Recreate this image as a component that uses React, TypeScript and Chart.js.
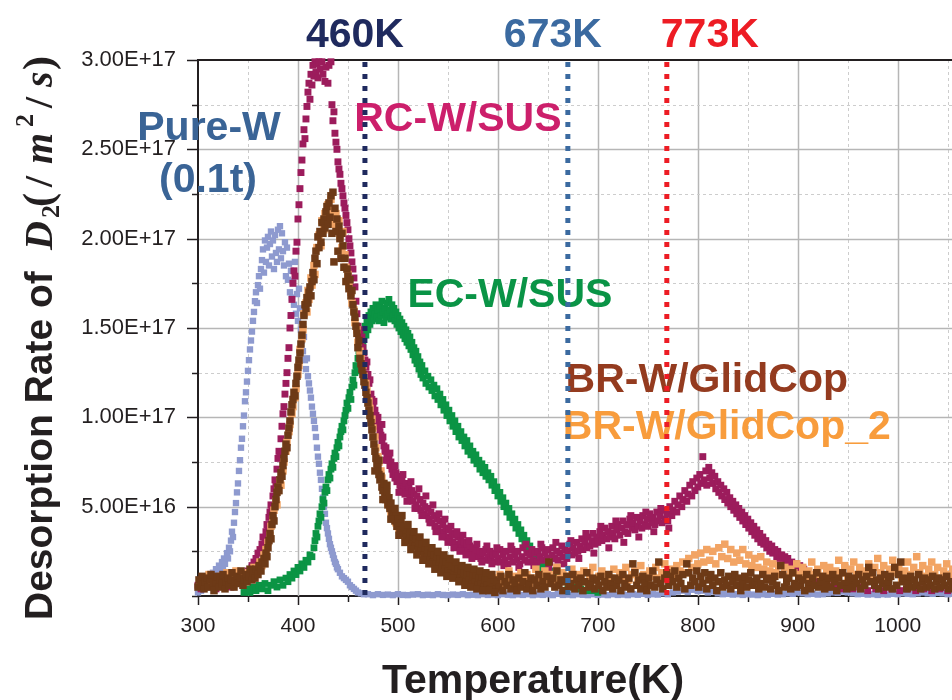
import React, { useEffect, useRef } from 'react';
import { Chart, registerables } from 'chart.js';

Chart.register(...registerables);

type P = [number, number][];

// Temperature (K), desorption rate in units of 1e16 /m^2/s
const RATE_UNIT = 1e16;

const PURE_W: P = [
  [300,.2],[302,.4],[303,.3],[305,.6],[307,.5],[309,.8],[310,.6],[312,1.1],[313,.9],[315,1.3],[316,1.1],[318,1.5],[319,1.3],[321,1.7],[322,1.4],[324,1.9],[325,1.6],[326,2.1],[327,1.8],[329,2.4],[330,2.1],[331,2.7],[332,2.5],[333,3.1],[334,3.6],[335,3.3],[336,4.1],[337,4.7],[338,5.2],[339,5.8],[340,6.3],[341,7.0],[342,7.6],[343,8.3],[344,8.8],[345,9.5],[346,10.1],[347,10.9],[348,11.4],[349,12.0],[350,12.6],[351,13.2],[352,13.8],[353,14.3],[354,14.8],[355,15.4],[356,15.9],[357,16.5],[358,17.0],[359,16.4],[360,17.4],[361,17.9],[362,17.2],[363,18.3],[364,18.8],[365,19.4],[366,18.1],[367,19.9],[368,18.7],[369,19.5],[370,20.1],[371,18.5],[372,19.7],[373,20.4],[374,19.0],[375,19.9],[376,18.3],[377,20.2],[378,19.2],[379,18.7],[380,20.5],[381,19.4],[382,20.7],[383,18.9],[384,20.3],[385,19.3],[386,18.5],[387,19.8],[388,17.9],[389,19.5],[390,17.7],[391,18.6],[392,17.0],[393,18.2],[394,16.7],[395,17.6],[396,16.3],[397,18.7],[398,15.8],[399,16.9],[400,15.4],[401,17.2],[402,16.1],[403,14.9],[404,14.3],[405,13.7],[406,14.5],[407,13.2],[408,12.7],[409,13.3],[410,12.3],[411,11.9],[412,11.5],[413,11.1],[414,10.6],[415,10.2],[416,9.8],[417,9.4],[418,8.9],[419,8.3],[420,7.8],[421,7.4],[422,6.9],[423,6.5],[424,6.0],[425,5.5],[426,5.0],[427,4.6],[428,4.1],[429,3.8],[430,3.5],[431,3.2],[432,2.9],[433,2.7],[434,2.5],[435,2.3],[436,2.1],[437,1.9],[438,1.8],[439,1.6],[440,1.5],[442,1.3],[444,1.1],[446,1.0],[448,.9],[450,.8],[452,.6],[454,.5],[456,.4],[458,.3],[460,.2],[463,.15],[466,.1],
  [470,.1],[475,.05],[480,.1],[485,.06],[490,.08],[495,.05],[500,.1],[505,.06],[510,.05],[515,.08],[520,.1],[525,.05],[530,.07],[535,.05],[540,.1],[545,.06],[550,.05],[555,.08],[560,.06],[565,.1],[570,.05],[575,.07],[580,.05],[585,.1],[590,.06],[595,.08],[600,.05],[605,.1],[610,.07],[615,.05],[620,.09],[625,.06],[630,.1],[635,.05],[640,.08],[645,.06],[650,.1],[655,.05],[660,.12],[665,.06],[670,.08],[675,.05],[680,.1],[685,.07],[690,.05],[695,.1],[700,.06],[705,.08],[710,.05],[715,.1],[720,.06],[725,.08],[730,.05],[735,.1],[740,.07],[745,.12],[750,.06],[755,.1],[760,.08],[765,.15],[770,.1],[775,.2],[780,.25],[785,.3],[790,.22],[795,.35],[800,.28],[805,.3],[810,.2],[815,.25],[820,.15],[825,.1],[830,.12],[835,.08],[840,.1],[845,.06],[850,.1],[855,.08],[860,.05],[865,.1],[870,.07],[875,.12],[880,.08],[885,.1],[890,.15],[895,.12],[900,.2],[905,.15],[910,.1],[915,.12],[920,.08],[925,.1],[930,.15],[935,.2],[940,.18],[945,.25],[950,.2],[955,.15],[960,.1],[965,.12],[970,.08],[975,.1],[980,.06],[985,.1],[990,.08],[995,.12],[1000,.1],[1005,.15],[1010,.12],[1015,.1],[1020,.15],[1025,.2],[1030,.15],[1035,.12],[1040,.18],[1045,.15],[1050,.1],[1055,.12],
];

const RC_W_SUS: P = [
  [300,.6],[303,.4],[306,.8],[309,.5],[312,.9],[315,.6],[318,.4],[321,.8],[324,.6],[327,1.0],[330,.7],[333,.5],[336,.9],[339,1.1],[342,.8],[345,1.2],[348,1.0],[350,1.4],[352,1.3],[354,1.7],[356,1.9],[358,2.1],[360,2.4],[362,2.6],[364,2.9],[365,3.3],[367,3.0],[368,3.6],[369,4.0],[370,3.8],[371,4.4],[372,4.7],[373,5.1],[374,5.0],[375,5.6],[376,6.0],[377,6.5],[378,6.2],[379,7.1],[380,7.7],[381,8.1],[382,7.8],[383,8.8],[384,9.5],[385,10.2],[386,10.6],[387,11.3],[388,11.9],[389,12.5],[390,13.3],[391,13.9],[392,15.0],[393,15.7],[394,16.6],[395,17.5],[396,18.2],[397,17.9],[398,19.3],[399,19.8],[400,21.1],[401,21.9],[402,22.8],[403,23.7],[404,24.4],[405,25.3],[406,26.1],[407,25.6],[408,26.7],[409,27.4],[410,28.2],[411,28.7],[412,27.8],[413,29.2],[414,28.6],[415,29.7],[416,29.1],[417,29.9],[418,29.3],[419,29.8],[420,29.0],[421,29.9],[422,29.5],[424,29.9],[425,29.2],[427,28.8],[428,29.6],[430,28.7],[431,29.7],[433,29.9],[434,27.5],[435,26.6],[436,27.1],[437,25.9],[438,25.4],[439,25.0],[440,24.3],[441,23.9],[442,23.6],[443,23.1],[444,22.8],[445,22.4],[446,22.0],[447,21.7],[448,21.3],[449,20.9],[450,20.5],[451,20.0],[452,19.6],[453,19.2],[454,18.7],[455,18.3],[456,17.8],[457,17.3],[458,16.5],[459,15.8],[460,15.1],[461,14.6],[462,14.9],[463,14.2],[464,14.5],[465,13.9],[466,13.6],[467,13.2],[468,12.8],[469,13.1],[470,12.4],[471,11.9],[472,12.1],[473,11.3],[474,11.0],[475,10.7],[476,10.9],[477,10.4],[478,10.1],[479,9.8],[480,10.0],[481,9.5],[482,9.2],[483,9.0],[484,8.7],[485,8.9],[486,8.4],[487,8.1],[488,8.3],[489,7.9],[490,7.6],[491,7.8],[492,7.3],[493,7.5],[494,7.1],[495,6.8],[496,7.2],[497,6.6],[498,6.9],[499,6.4],[500,6.7],[502,6.2],[503,5.9],[504,6.5],[506,6.0],[507,5.7],[508,6.3],[510,5.8],[511,6.1],[512,5.5],[514,5.9],[515,5.3],[516,5.7],[518,5.1],[519,5.6],[520,4.9],[522,5.4],[523,4.8],[525,5.2],[526,4.6],[527,5.0],[529,4.5],[530,4.9],[531,4.3],[533,4.7],[534,4.1],[536,4.5],[537,3.9],[539,4.3],[540,3.8],[542,4.2],[543,3.6],[545,4.0],[546,3.5],[548,3.8],[549,3.3],[551,3.7],[552,3.2],[554,3.5],[555,3.0],[557,3.4],[558,2.9],[560,3.3],[561,2.8],[563,3.1],[564,2.7],[566,3.0],[567,2.6],[569,2.9],[570,2.5],[572,2.8],[573,2.4],[575,2.7],[577,2.3],[578,2.6],[580,2.2],[582,2.5],[583,2.1],[585,2.4],[587,2.0],[588,2.6],[590,2.2],[592,2.5],[593,2.0],[595,2.3],[597,1.9],[598,2.4],[600,2.1],[602,2.6],[603,1.9],[605,2.3],[607,2.0],[608,2.5],[610,1.8],[612,2.2],[614,2.6],[615,1.9],[617,2.3],[619,2.0],[620,2.5],[622,1.8],[624,2.2],[625,2.7],[627,2.0],[629,2.4],[630,1.9],[632,2.3],[634,2.6],[635,2.0],[637,2.4],[639,1.9],[640,2.5],[642,2.2],[644,2.7],[645,2.0],[647,2.4],[649,2.1],[650,2.6],[652,1.9],[654,2.3],[655,2.7],[657,2.1],[659,2.5],[660,2.0],[662,2.4],[664,2.8],[665,2.2],[667,2.6],[669,2.1],[670,2.5],[672,2.9],[674,2.3],[675,2.7],[677,2.4],[679,3.0],[680,2.5],[682,2.8],[684,3.2],[685,2.6],[687,3.0],[689,2.7],[690,3.3],[692,2.8],[694,3.1],[695,3.5],[697,2.9],[699,3.3],[700,3.0],[702,3.6],[704,3.1],[705,3.4],[707,3.8],[709,3.2],[710,3.6],[712,3.3],[714,3.9],[715,3.5],[717,3.2],[719,3.7],[720,4.0],[722,3.4],[724,3.8],[725,4.2],[727,3.6],[729,4.0],[730,3.5],[732,4.3],[734,3.8],[735,4.1],[737,3.7],[739,4.4],[740,3.9],[742,4.2],[744,3.8],[745,4.5],[747,4.0],[749,4.3],[750,3.9],[752,4.6],[754,4.1],[755,4.4],[757,4.0],[759,4.7],[760,4.2],[762,4.5],[764,4.1],[765,4.8],[767,4.3],[769,4.6],[770,4.2],[772,5.0],[774,4.5],[775,4.8],[777,5.3],[779,4.7],[780,5.1],[782,5.6],[784,5.0],[785,5.4],[787,5.9],[789,5.3],[790,5.7],[792,6.2],[794,5.6],[795,6.4],[797,5.9],[799,6.6],[800,6.1],[802,6.8],[803,6.3],[805,7.8],[806,6.5],[808,7.0],[809,6.2],[811,7.2],[812,6.6],[814,6.9],[815,6.3],[817,6.7],[818,6.0],[820,6.4],[821,5.8],[823,6.2],[824,5.6],[826,6.0],[827,5.4],[829,5.8],[830,5.2],[832,5.5],[833,5.0],[835,5.3],[836,4.8],[838,5.1],[839,4.6],[841,4.9],[842,4.4],[844,4.7],[845,4.2],[847,4.5],[848,4.0],[850,4.3],[851,3.8],[853,4.1],[854,3.6],[856,3.9],[857,3.4],[859,3.7],[860,3.2],[862,3.5],[863,3.0],[865,3.3],[866,2.9],[868,3.1],[869,2.7],[871,2.9],[872,2.5],[874,2.8],[875,2.4],[877,2.6],[879,2.2],[880,2.5],[882,2.1],[884,2.3],[885,2.0],[887,2.2],[889,1.8],[890,2.1],[892,1.7],[894,1.9],[896,1.6],[898,1.8],[900,1.5],[902,1.7],[904,1.3],[906,1.5],[908,1.2],[910,1.0],[913,.8],[916,.9],[920,.6],[925,.7],[930,.5],[936,.6],[942,.4],[948,.5],[955,.4],[962,.5],[970,.3],[978,.4],[986,.3],[994,.4],[1002,.3],[1010,.4],[1018,.3],[1026,.4],[1034,.3],[1042,.4],[1050,.3],
  [484,9.6],[488,7.6],[492,8.0],[497,7.3],[501,5.8],[505,6.8],[509,5.3],[513,6.4],[517,4.9],[521,6.0],[524,4.5],[528,5.6],[532,4.1],[535,5.1],[538,3.6],[541,4.6],[544,3.3],[547,4.3],[550,3.0],[553,3.9],[556,2.7],[559,3.6],[562,2.5],[565,3.4],[568,2.3],[571,3.1],[574,2.1],[579,2.9],[584,1.9],[589,2.8],[594,1.8],[599,2.7],[606,1.7],[613,2.8],[621,1.6],[628,2.9],[636,1.7],[643,2.9],[651,1.6],[658,3.0],[666,1.8],[673,3.1],[681,2.1],[688,3.5],[696,2.4],[703,3.9],[711,2.7],[718,4.2],[726,3.0],[733,4.5],[741,3.3],[748,4.7],[756,3.6],[763,4.9],[771,3.8],
];

const EC_W_SUS: P = [
  [346,.2],[349,.4],[352,.2],[355,.5],[358,.3],[361,.6],[364,.4],[367,.7],[370,.3],[373,.6],[376,.8],[379,.5],[382,.9],[385,.6],[388,1.0],[390,.8],[392,1.2],[394,1.0],[396,1.4],[398,1.2],[400,1.6],[402,1.4],[404,1.8],[406,1.6],[408,2.0],[410,1.9],[412,2.3],[414,2.2],[416,2.7],[417,3.1],[418,3.5],[419,3.3],[420,3.9],[421,4.2],[422,4.6],[423,4.4],[424,5.0],[425,5.4],[426,5.2],[427,5.8],[428,6.1],[429,5.9],[430,6.5],[431,6.8],[432,6.6],[433,7.1],[434,7.4],[435,7.2],[436,7.7],[437,8.0],[438,7.8],[439,8.3],[440,8.6],[441,8.4],[442,8.9],[443,9.2],[444,9.5],[445,9.3],[446,9.8],[447,10.1],[448,10.4],[449,10.8],[450,10.5],[451,11.1],[452,11.4],[453,11.0],[454,11.7],[455,12.1],[456,11.8],[457,12.5],[458,12.9],[459,12.6],[460,13.3],[461,13.7],[462,13.4],[463,14.1],[464,14.4],[465,14.0],[466,14.8],[467,15.1],[468,14.6],[469,15.4],[470,14.9],[471,15.7],[472,15.2],[473,15.9],[474,15.4],[475,16.1],[476,15.5],[477,15.8],[478,16.3],[479,15.6],[480,16.0],[481,15.4],[482,16.2],[483,15.7],[484,16.5],[485,15.9],[486,15.3],[487,16.1],[488,15.6],[489,16.4],[490,15.8],[491,16.6],[492,16.0],[493,15.5],[494,16.3],[495,15.7],[496,16.1],[497,15.4],[498,15.9],[499,15.2],[500,15.7],[501,15.0],[502,15.5],[503,14.8],[504,15.3],[505,14.6],[506,15.1],[507,14.4],[508,14.9],[509,14.2],[510,14.7],[511,14.0],[512,14.5],[513,13.8],[514,14.2],[515,13.5],[516,13.9],[517,13.2],[518,13.7],[519,13.0],[520,13.4],[521,12.7],[522,13.1],[523,12.4],[524,12.9],[525,12.2],[527,12.6],[528,11.9],[530,12.3],[531,11.7],[533,12.1],[534,11.5],[536,11.8],[537,11.2],[539,11.6],[540,11.0],[542,11.3],[543,10.7],[545,11.0],[546,10.4],[548,10.7],[549,10.1],[551,10.4],[552,9.8],[554,10.1],[555,9.5],[557,9.8],[558,9.2],[560,9.5],[561,8.9],[563,9.2],[564,8.7],[566,8.9],[567,8.4],[569,8.7],[570,8.1],[572,8.4],[573,7.9],[575,8.1],[576,7.6],[578,7.9],[579,7.4],[581,7.6],[582,7.1],[584,7.4],[585,6.9],[587,7.2],[588,6.7],[590,6.9],[591,6.5],[593,6.7],[594,6.2],[596,6.4],[597,5.9],[599,6.1],[600,5.6],[602,5.8],[603,5.3],[605,5.5],[606,5.0],[608,5.2],[609,4.7],[611,4.9],[612,4.4],[614,4.6],[615,4.1],[617,4.3],[618,3.8],[620,4.0],[621,3.5],[623,3.7],[624,3.2],[626,3.4],[627,2.9],[629,3.1],[630,2.6],[632,2.8],[633,2.3],[635,2.5],[636,2.0],[638,2.2],[639,1.8],[641,1.9],[643,1.5],[645,1.7],[647,1.3],[649,1.5],[651,1.2],[654,1.4],[657,1.0],[660,1.2],[663,.8],[666,1.0],[670,.6],[674,.8],[678,.5],[683,.4],[688,.3],[694,.3],[700,.2],
];

const BR_W_GLIDCOP: P = [
  [300,.5],[301,.9],[303,.6],[304,1.1],[306,.4],[307,.8],[309,1.0],[310,.5],[312,.9],[313,1.2],[315,.6],[316,.3],[318,.8],[319,1.1],[321,.5],[322,.9],[324,.7],[325,1.2],[327,.4],[328,.8],[330,1.0],[331,.6],[333,.9],[334,1.3],[336,.5],[337,.8],[339,1.1],[340,.7],[342,1.0],[343,1.4],[345,.6],[346,.9],[348,1.2],[349,.8],[351,1.1],[352,1.5],[354,.9],[355,1.3],[357,1.0],[358,1.5],[360,1.2],[361,1.7],[363,1.4],[364,1.9],[366,2.1],[367,1.8],[368,2.4],[369,2.2],[370,2.7],[371,3.1],[372,3.5],[373,3.2],[374,4.0],[375,4.5],[376,4.2],[377,5.0],[378,5.4],[379,5.8],[380,6.1],[381,5.9],[382,6.5],[383,6.9],[384,6.7],[385,7.3],[386,7.7],[387,8.1],[388,8.5],[389,8.3],[390,9.0],[391,9.4],[392,9.8],[393,10.3],[394,10.7],[395,11.0],[396,11.4],[397,11.2],[398,11.9],[399,12.3],[400,12.8],[401,13.2],[402,13.6],[403,14.1],[404,14.6],[405,15.2],[406,15.7],[407,16.3],[408,16.1],[409,16.7],[410,16.4],[411,17.0],[412,17.3],[413,16.8],[414,17.6],[415,18.1],[416,17.7],[417,18.9],[418,19.3],[419,18.6],[420,20.1],[421,19.5],[422,20.4],[423,19.8],[424,20.9],[425,20.3],[426,21.1],[427,20.6],[428,21.5],[429,21.8],[430,20.8],[431,22.0],[432,21.2],[433,22.4],[434,20.3],[435,22.6],[436,18.7],[437,21.7],[438,20.4],[439,21.1],[440,19.3],[441,20.7],[442,20.0],[443,18.9],[444,20.3],[445,19.6],[446,18.4],[447,18.9],[448,17.6],[449,18.3],[450,17.9],[451,17.2],[452,17.7],[453,16.8],[454,17.1],[455,16.3],[456,15.9],[457,15.6],[458,15.1],[459,14.7],[460,13.9],[461,14.3],[462,13.3],[463,13.0],[464,12.7],[465,12.4],[466,12.0],[467,11.8],[468,11.4],[469,11.1],[470,10.8],[471,10.4],[472,10.1],[473,9.7],[474,9.3],[475,8.9],[476,8.5],[477,8.1],[478,7.7],[479,7.4],[480,7.2],[481,6.8],[482,6.5],[483,6.7],[484,6.1],[485,5.9],[486,6.3],[487,5.6],[488,5.4],[489,5.8],[490,5.1],[491,5.5],[492,4.9],[493,5.2],[494,4.6],[495,4.4],[496,4.8],[497,4.2],[498,4.5],[499,3.9],[500,4.3],[502,3.7],[503,4.1],[505,3.5],[506,3.9],[508,3.3],[509,3.7],[511,3.1],[512,3.5],[514,2.9],[515,3.3],[517,2.8],[518,3.2],[520,2.6],[521,3.0],[523,2.5],[524,2.9],[526,2.3],[527,2.7],[529,2.2],[530,2.6],[532,2.0],[533,2.4],[535,1.9],[536,2.3],[538,1.8],[539,2.2],[541,1.7],[542,2.1],[544,1.6],[545,2.0],[547,1.5],[548,1.9],[550,1.4],[551,1.8],[553,1.3],[554,1.7],[556,1.2],[557,1.6],[559,1.1],[560,1.5],[562,1.0],[563,1.4],[565,.9],[566,1.3],[568,.8],[569,1.2],[571,.9],[572,1.3],[574,.7],[575,1.1],[577,.8],[578,1.2],[580,.6],[581,1.0],[583,.7],[584,1.1],[586,.5],[587,.9],[589,.6],[590,1.0],[592,.4],[593,.8],[595,.5],[596,.9],[598,.4],[599,.8],
  [601,.5],[603,1.1],[605,.3],[607,.8],[609,.6],[611,1.2],[613,.4],[615,.9],[617,.7],[619,.3],[621,1.0],[623,.5],[625,.8],[627,1.3],[629,.4],[631,.7],[633,1.0],[635,.3],[637,.9],[639,.6],[641,1.2],[643,.4],[645,.8],[647,.5],[649,1.1],[651,1.9],[653,.7],[655,1.0],[657,.5],[659,1.4],[661,.6],[663,.9],[665,.3],[667,.8],[669,1.1],[671,.5],[673,.7],[675,1.2],[677,.4],[679,.9],[681,.6],[683,1.0],[685,.3],[687,.8],[689,1.3],[691,.5],[693,.7],[695,1.0],[697,.4],[699,.9],[701,.6],[703,1.1],[705,.3],[707,.8],[709,.5],[711,1.2],[713,.7],[715,.4],[717,1.0],[719,.6],[721,.9],[723,.3],[725,1.2],[727,.7],[729,.5],[731,1.0],[733,.4],[735,1.8],[737,1.3],[739,.6],[741,.9],[743,.4],[745,1.1],[747,.7],[749,.3],[751,1.0],[753,.6],[755,1.4],[757,.5],[759,.9],[761,1.9],[763,.7],[765,.4],[767,1.0],[769,1.3],[771,.6],[773,1.1],[775,.8],[777,1.4],[779,.5],[781,1.0],[783,.7],[785,1.2],[787,.4],[789,1.8],[791,1.3],[793,.6],[795,1.0],[797,.8],[799,1.4],[801,.5],[803,1.1],[805,.7],[807,1.3],[809,.4],[811,.9],[813,1.2],[815,.6],[817,1.0],[819,.3],[821,.8],[823,1.3],[825,.5],[827,.9],[829,.6],[831,1.1],[833,.4],[835,.8],[837,1.2],[839,.6],[841,1.0],[843,.3],[845,.7],[847,1.1],[849,.5],[851,.9],[853,1.3],[855,.6],[857,.8],[859,1.0],[861,.4],[863,.7],[865,1.2],[867,.5],[869,.9],[871,1.0],[873,.4],[875,.8],[877,1.1],[879,.6],[881,.3],[883,1.7],[885,1.2],[887,.5],[889,.8],[891,1.0],[893,.4],[895,1.3],[897,.7],[899,.5],[901,1.0],[903,.6],[905,.9],[907,.3],[909,1.2],[911,.7],[913,.4],[915,1.0],[917,.6],[919,1.3],[921,.5],[923,.8],[925,1.1],[927,.4],[929,.7],[931,1.0],[933,.5],[935,1.2],[937,.8],[939,.3],[941,1.0],[943,.6],[945,1.3],[947,.7],[949,.4],[951,1.1],[953,.8],[955,.5],[957,1.0],[959,.7],[961,1.2],[963,.4],[965,.9],[967,.6],[969,1.1],[971,1.6],[973,.8],[975,1.3],[977,.6],[979,.9],[981,.4],[983,1.0],[985,.7],[987,1.2],[989,.5],[991,.8],[993,1.1],[995,.4],[997,1.6],[999,.6],[1001,1.2],[1003,1.9],[1005,.8],[1007,1.0],[1009,.4],[1011,.7],[1013,1.1],[1015,.5],[1017,.9],[1019,.6],[1021,1.2],[1023,.4],[1025,.8],[1027,1.0],[1029,.5],[1031,.9],[1033,.6],[1035,1.1],[1037,.4],[1039,.8],[1041,1.0],[1043,.5],[1045,.9],[1047,.6],[1049,1.1],[1051,.4],[1053,.8],[1055,.6],
  [477,7.0],[481,7.6],[485,5.4],[489,6.2],[493,4.3],[497,4.9],[501,3.4],[504,4.5],[507,3.0],[510,4.0],[513,2.6],[516,3.6],[519,2.3],[522,3.3],[525,2.0],[528,3.0],[531,1.8],[534,2.7],[537,1.5],[540,2.5],[543,1.3],[546,2.3],[549,1.1],[552,2.1],[555,1.0],[558,1.9],[561,.8],[564,1.7],[567,.6],[570,1.6],[573,.5],[576,1.5],[579,.4],[582,1.4],[585,.3],[588,1.3],[591,.3],[594,1.2],[597,.2],
];

const BR_W_GLIDCOP_2: P = [
  [302,.7],[305,1.0],[308,.6],[311,1.2],[314,.8],[317,1.0],[320,.6],[323,1.1],[326,.8],[329,1.3],[332,.7],[335,1.0],[338,1.4],[341,.9],[344,1.2],[347,.8],[350,1.3],[353,1.1],[356,1.6],[359,1.4],[362,1.9],[364,1.7],[366,2.3],[368,2.6],[370,3.0],[372,3.4],[373,3.9],[375,4.3],[376,4.8],[378,5.3],[379,5.1],[380,5.9],[382,6.4],[383,6.2],[385,7.0],[386,7.5],[388,8.1],[389,8.6],[391,9.2],[392,9.6],[394,10.2],[395,10.6],[397,11.1],[398,11.6],[400,12.4],[401,12.9],[402,13.8],[404,14.4],[405,14.9],[406,15.8],[408,16.4],[409,15.9],[410,17.1],[411,16.6],[413,17.8],[414,17.4],[416,18.5],[417,18.0],[419,19.5],[421,20.2],[423,19.6],[424,21.0],[426,20.5],[427,21.4],[429,20.9],[430,21.9],[432,21.3],[433,22.2],[435,21.6],[436,20.8],[438,21.4],[439,20.6],[441,21.0],[442,20.1],[444,19.5],[445,20.4],[447,19.1],[448,18.4],[450,18.0],[451,17.4],[453,17.0],[454,16.4],[456,16.0],[457,15.3],[459,14.9],[460,14.2],[462,13.7],[463,13.4],[465,12.9],[466,12.3],[468,11.9],[469,11.5],[471,10.9],[472,10.5],[474,9.9],[475,9.4],[477,8.9],[478,8.3],[480,7.8],[481,7.5],[483,7.0],[484,6.6],[486,6.2],[487,5.8],[489,5.5],[490,5.2],[492,5.0],[493,4.7],[495,4.4],[496,4.6],[498,4.1],[499,4.3],[501,3.8],[503,4.0],[504,3.6],[506,3.8],[508,3.4],[509,3.6],[511,3.2],[513,3.4],[514,3.0],[516,3.2],[518,2.8],[519,3.0],[521,2.6],[523,2.9],[524,2.4],[526,2.7],[528,2.3],[529,2.5],[531,2.1],[533,2.4],[534,2.0],[536,2.2],[538,1.9],[540,2.1],[541,1.7],[543,2.0],[545,1.6],[547,1.9],[548,1.5],[550,1.8],[552,1.4],[554,1.7],[555,1.3],[557,1.6],[559,1.2],[561,1.5],[563,1.1],[565,1.4],[567,1.0],[569,1.3],[571,.9],[573,1.2],[575,.8],[577,1.1],[579,.9],[581,1.3],[583,.8],[585,1.1],[587,.7],[589,1.0],[591,.8],[593,1.2],[595,.7],[597,1.0],[599,.8],
  [602,1.2],[605,.7],[608,1.0],[611,1.4],[614,.8],[617,1.1],[620,.6],[623,1.3],[626,.9],[629,1.2],[632,.7],[635,1.0],[638,1.5],[641,.8],[644,1.1],[647,1.4],[650,.9],[653,1.2],[656,.7],[659,1.6],[662,1.0],[665,1.3],[668,.8],[671,1.1],[674,1.5],[677,.9],[680,1.2],[683,1.0],[686,1.4],[689,.8],[692,1.2],[695,1.6],[698,.9],[701,1.1],[704,1.4],[707,.8],[710,1.2],[713,1.0],[716,1.5],[719,.9],[722,1.3],[725,1.1],[728,1.6],[731,.9],[734,1.2],[737,1.4],[740,1.0],[743,1.7],[746,1.2],[749,.9],[752,1.4],[755,1.1],[758,1.6],[761,1.0],[764,1.3],[767,1.8],[770,1.2],[773,1.5],[776,1.1],[779,1.7],[782,1.4],[785,1.9],[788,1.3],[791,2.1],[794,1.6],[797,2.3],[800,1.8],[803,2.4],[806,1.9],[809,2.6],[812,2.0],[815,2.5],[818,1.8],[821,2.7],[824,2.2],[827,2.9],[830,2.1],[833,2.6],[836,1.9],[839,2.4],[842,2.0],[845,2.6],[848,1.8],[851,2.3],[854,1.7],[857,2.1],[860,1.6],[863,2.2],[866,1.5],[869,1.9],[872,1.4],[875,1.8],[878,1.3],[881,1.7],[884,1.2],[887,1.6],[890,1.1],[893,1.5],[896,1.3],[899,1.8],[902,1.2],[905,1.6],[908,1.0],[911,1.4],[914,1.9],[917,1.2],[920,1.5],[923,1.1],[926,1.7],[929,1.3],[932,1.6],[935,1.0],[938,1.4],[941,2.0],[944,1.3],[947,1.7],[950,1.1],[953,1.5],[956,1.9],[959,1.2],[962,1.6],[965,1.0],[968,1.4],[971,1.8],[974,1.2],[977,1.6],[980,2.1],[983,1.3],[986,1.7],[989,1.1],[992,1.5],[995,2.0],[998,1.3],[1001,1.6],[1004,1.0],[1007,1.4],[1010,1.9],[1013,1.2],[1016,1.6],[1019,2.2],[1022,1.3],[1025,1.7],[1028,1.1],[1031,1.5],[1034,1.9],[1037,1.2],[1040,1.6],[1043,1.0],[1046,1.4],[1049,1.8],[1052,1.2],[1055,1.5],
];

// Axis ranges and ticks
const X_MIN = 300;
const X_MAX = 1055;
const X_STEP = 50;
const Y_MIN = 0;
const Y_MAX = 3e17;
const Y_STEP = 2.5e16;

// Reference temperature lines (K)
const REF_LINES = [
  { t: 467, color: '#1f2a5e' },
  { t: 670, color: '#3b6aa0' },
  { t: 769, color: '#ed1c24' },
];

// Text annotations: centre temperature (K), baseline rate (1e16)
const LABELS = [
  { text: '460K', t: 457, r: 30.7, color: '#1f2a5e' },
  { text: '673K', t: 655, r: 30.7, color: '#3b6aa0' },
  { text: '773K', t: 812, r: 30.7, color: '#ed1c24' },
  { text: 'Pure-W', t: 311, r: 25.5, color: '#3a6496' },
  { text: '(0.1t)', t: 310, r: 22.6, color: '#3a6496' },
  { text: 'RC-W/SUS', t: 560, r: 26.0, color: '#cc1f6b' },
  { text: 'EC-W/SUS', t: 612, r: 16.15, color: '#0a9446' },
  { text: 'BR-W/GlidCop', t: 809, r: 11.4, color: '#943b1f' },
  { text: 'BR-W/GlidCop_2', t: 829, r: 8.8, color: '#f89c3c' },
];

const SERIES = [
  { name: 'BR-W/GlidCop', data: BR_W_GLIDCOP, color: '#6d3a17', radius: 5.3 },
  { name: 'BR-W/GlidCop_2', data: BR_W_GLIDCOP_2, color: '#f2a464', radius: 5.3 },
  { name: 'RC-W/SUS', data: RC_W_SUS, color: '#9c1c5c', radius: 4.9 },
  { name: 'EC-W/SUS', data: EC_W_SUS, color: '#0b9444', radius: 4.8 },
  { name: 'Pure-W (0.1t)', data: PURE_W, color: '#8e9acf', radius: 4.5 },
];

const SANS = '"Liberation Sans", Arial, sans-serif';
const SERIF = '"Liberation Serif", "Times New Roman", serif';
const INK = '#231f20';

const Y_TITLE = [
  { text: 'Desorption Rate of', font: `bold 39px ${SANS}`, at: 0, dy: 0 },
  { text: 'D', font: `italic bold 40px ${SERIF}`, at: 370, dy: 0 },
  { text: '2', font: `bold 26px ${SERIF}`, at: 402, dy: 7 },
  { text: '(', font: `bold 42px ${SERIF}`, at: 413, dy: 0 },
  { text: '/', font: `bold 40px ${SERIF}`, at: 433, dy: 0 },
  { text: 'm', font: `italic bold 40px ${SERIF}`, at: 456, dy: 0 },
  { text: '2', font: `bold 26px ${SERIF}`, at: 493, dy: -19 },
  { text: '/', font: `bold 40px ${SERIF}`, at: 512, dy: 0 },
  { text: 's', font: `italic bold 40px ${SERIF}`, at: 533, dy: 0 },
  { text: ')', font: `bold 42px ${SERIF}`, at: 550, dy: 0 },
];

const isMajorY = (v: number) => v > 0 && Math.round(v / Y_STEP) % 2 === 0;

const decorPlugin = {
  id: 'decor',
  beforeDatasetsDraw(chart: any) {
    const { ctx, chartArea: a, scales } = chart;
    const xs = scales.x;
    const ys = scales.y;
    ctx.save();
    xs.ticks.forEach((tk: any) => {
      const v = tk.value;
      if (v <= X_MIN) return;
      const px = Math.round(xs.getPixelForValue(v)) + 0.5;
      const major = v % 100 === 0;
      ctx.beginPath();
      ctx.strokeStyle = major ? '#b6b6b6' : '#cdcdcd';
      ctx.lineWidth = major ? 1.5 : 1;
      ctx.setLineDash(major ? [] : [3, 3]);
      ctx.moveTo(px, a.top);
      ctx.lineTo(px, a.bottom);
      ctx.stroke();
    });
    ys.ticks.forEach((tk: any) => {
      const v = tk.value;
      if (v <= Y_MIN || v >= Y_MAX) return;
      const py = Math.round(ys.getPixelForValue(v)) + 0.5;
      const major = isMajorY(v);
      ctx.beginPath();
      ctx.strokeStyle = major ? '#b6b6b6' : '#cdcdcd';
      ctx.lineWidth = major ? 1.5 : 1;
      ctx.setLineDash(major ? [] : [3, 3]);
      ctx.moveTo(a.left + 1, py);
      ctx.lineTo(a.right, py);
      ctx.stroke();
    });
    ctx.setLineDash([]);
    ctx.strokeStyle = INK;
    ctx.lineWidth = 1.5;
    xs.ticks.forEach((tk: any) => {
      const v = tk.value;
      const px = Math.round(xs.getPixelForValue(v)) + 0.5;
      const len = v % 100 === 0 ? 9 : 6;
      ctx.beginPath();
      ctx.moveTo(px, a.bottom);
      ctx.lineTo(px, a.bottom + len);
      ctx.stroke();
    });
    ys.ticks.forEach((tk: any) => {
      const v = tk.value;
      const py = Math.round(ys.getPixelForValue(v)) + 0.5;
      const len = isMajorY(v) || v === Y_MAX ? 11 : 6;
      ctx.beginPath();
      ctx.moveTo(a.left - len, py);
      ctx.lineTo(a.left, py);
      ctx.stroke();
    });
    ctx.lineWidth = 2;
    ctx.beginPath();
    ctx.moveTo(a.left, a.top);
    ctx.lineTo(a.right, a.top);
    ctx.stroke();
    ctx.restore();
  },
  afterDatasetsDraw(chart: any) {
    const { ctx, chartArea: a, scales } = chart;
    const xs = scales.x;
    const ys = scales.y;
    ctx.save();
    ctx.font = `bold 41px ${SANS}`;
    ctx.textAlign = 'center';
    ctx.textBaseline = 'alphabetic';
    LABELS.forEach((l) => {
      ctx.fillStyle = l.color;
      ctx.fillText(l.text, xs.getPixelForValue(l.t), ys.getPixelForValue(l.r * RATE_UNIT));
    });
    REF_LINES.forEach((r) => {
      const px = xs.getPixelForValue(r.t);
      ctx.beginPath();
      ctx.strokeStyle = r.color;
      ctx.lineWidth = 5;
      ctx.setLineDash([5, 7]);
      ctx.moveTo(px, a.top + 2);
      ctx.lineTo(px, a.bottom);
      ctx.stroke();
    });
    ctx.setLineDash([]);
    ctx.fillStyle = INK;
    ctx.font = `bold 41px ${SANS}`;
    ctx.textAlign = 'center';
    ctx.fillText('Temperature(K)', a.left + 335, a.bottom + 97);
    ctx.translate(52, a.bottom + 24);
    ctx.rotate(-Math.PI / 2);
    ctx.textAlign = 'left';
    Y_TITLE.forEach((s) => {
      ctx.font = s.font;
      ctx.fillText(s.text, s.at, s.dy);
    });
    ctx.restore();
  },
};

export default function App() {
  const canvasRef = useRef<HTMLCanvasElement>(null);

  useEffect(() => {
    const canvas = canvasRef.current;
    if (!canvas) return;
    const chart = new Chart(canvas, {
      type: 'scatter',
      data: {
        datasets: SERIES.map((s) => ({
          label: s.name,
          data: s.data.map(([t, r]) => ({ x: t, y: r * RATE_UNIT })),
          pointStyle: 'rect',
          pointRadius: s.radius,
          pointHoverRadius: s.radius,
          backgroundColor: s.color,
          pointBackgroundColor: s.color,
          borderWidth: 0,
          pointBorderWidth: 0,
          clip: false as any,
        })),
      },
      options: {
        animation: false,
        responsive: false,
        maintainAspectRatio: false,
        devicePixelRatio: 1,
        events: [],
        layout: { padding: { top: 60, left: 0, right: 0, bottom: 0 } },
        plugins: {
          legend: { display: false },
          tooltip: { enabled: false },
          title: { display: false },
        },
        scales: {
          x: {
            type: 'linear',
            position: 'bottom',
            min: X_MIN,
            max: X_MAX,
            afterFit: (s: any) => { s.height = 104; },
            grid: { display: false, drawTicks: true, tickLength: 18, tickColor: 'rgba(0,0,0,0)' },
            border: { display: true, color: INK, width: 2 },
            ticks: {
              stepSize: X_STEP,
              includeBounds: false,
              autoSkip: false,
              maxRotation: 0,
              padding: 0,
              color: INK,
              font: { family: SANS, size: 21 },
              callback: (v: any) => (Number(v) % 100 === 0 ? String(v) : ''),
            },
          },
          y: {
            type: 'linear',
            min: Y_MIN,
            max: Y_MAX,
            afterFit: (s: any) => { s.width = 198; },
            grid: { display: false, drawTicks: false },
            border: { display: true, color: INK, width: 2 },
            ticks: {
              stepSize: Y_STEP,
              autoSkip: false,
              padding: 22,
              color: INK,
              font: { family: SANS, size: 22 },
              callback: (v: any) => (isMajorY(Number(v)) ? Number(v).toExponential(2).toUpperCase() : ''),
            },
          },
        },
      } as any,
      plugins: [decorPlugin],
    });
    return () => chart.destroy();
  }, []);

  return (
    <div style={{ position: 'absolute', left: 0, top: 0, width: 952, height: 700, background: '#ffffff', overflow: 'hidden' }}>
      <canvas ref={canvasRef} width={958} height={700} style={{ display: 'block', width: 958, height: 700 }} />
    </div>
  );
}
